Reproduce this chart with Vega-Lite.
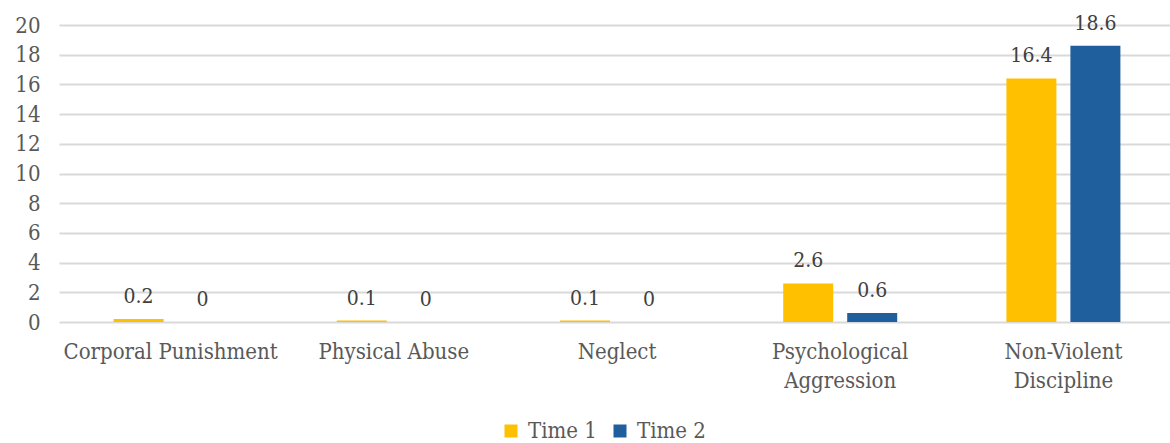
{
  "$schema": "https://vega.github.io/schema/vega-lite/v6.json",
  "width": 1111,
  "height": 297,
  "autosize": {"type": "none"},
  "padding": {"left": 59, "top": 25, "right": 0, "bottom": 121},
  "background": "white",
  "config": {
    "font": "DejaVu Serif Condensed",
    "view": {"stroke": null}
  },
  "data": {
    "values": [
      {"category": "Corporal Punishment", "series": "Time 1", "value": 0.2},
      {"category": "Corporal Punishment", "series": "Time 2", "value": 0},
      {"category": "Physical Abuse", "series": "Time 1", "value": 0.1},
      {"category": "Physical Abuse", "series": "Time 2", "value": 0},
      {"category": "Neglect", "series": "Time 1", "value": 0.1},
      {"category": "Neglect", "series": "Time 2", "value": 0},
      {"category": "Psychological Aggression", "series": "Time 1", "value": 2.6},
      {"category": "Psychological Aggression", "series": "Time 2", "value": 0.6},
      {"category": "Non-Violent Discipline", "series": "Time 1", "value": 16.4},
      {"category": "Non-Violent Discipline", "series": "Time 2", "value": 18.6}
    ]
  },
  "encoding": {
    "x": {
      "field": "category",
      "type": "nominal",
      "sort": null,
      "scale": {"paddingInner": 0, "paddingOuter": 0, "range": [0, 1116]},
      "axis": {
        "title": null,
        "labelAngle": 0,
        "ticks": false,
        "domain": false,
        "labelFontSize": 22,
        "labelLimit": 0,
        "labelColor": "#595959",
        "labelPadding": 19,
        "labelLineHeight": 29,
        "labelBaseline": "top",
        "labelExpr": "datum.value == 'Psychological Aggression' ? ['Psychological', 'Aggression'] : datum.value == 'Non-Violent Discipline' ? ['Non-Violent', 'Discipline'] : datum.label"
      }
    },
    "xOffset": {
      "field": "series",
      "type": "nominal",
      "scale": {"paddingInner": 0.21875, "paddingOuter": 0.853}
    },
    "y": {
      "field": "value",
      "type": "quantitative",
      "scale": {"domain": [0, 20]},
      "axis": {
        "title": null,
        "values": [0, 2, 4, 6, 8, 10, 12, 14, 16, 18, 20],
        "ticks": false,
        "domain": false,
        "labelFontSize": 22,
        "labelColor": "#595959",
        "labelPadding": 19,
        "gridColor": "#d9d9d9",
        "gridWidth": 2
      }
    }
  },
  "layer": [
    {
      "mark": {"type": "bar"},
      "encoding": {
        "color": {
          "field": "series",
          "type": "nominal",
          "scale": {"domain": ["Time 1", "Time 2"], "range": ["#ffc000", "#1f5f9e"]},
          "legend": {
            "title": null,
            "orient": "none",
            "direction": "horizontal",
            "legendX": 441,
            "legendY": 395,
            "symbolType": "square",
            "symbolSize": 169,
            "symbolStrokeWidth": 0,
            "labelFontSize": 22,
            "labelColor": "#595959",
            "labelOffset": 6,
            "columnPadding": 12
          }
        }
      }
    },
    {
      "mark": {"type": "text", "baseline": "alphabetic", "dy": -16, "fontSize": 21, "color": "#404040"},
      "encoding": {
        "text": {"field": "value", "type": "quantitative"}
      }
    }
  ]
}
